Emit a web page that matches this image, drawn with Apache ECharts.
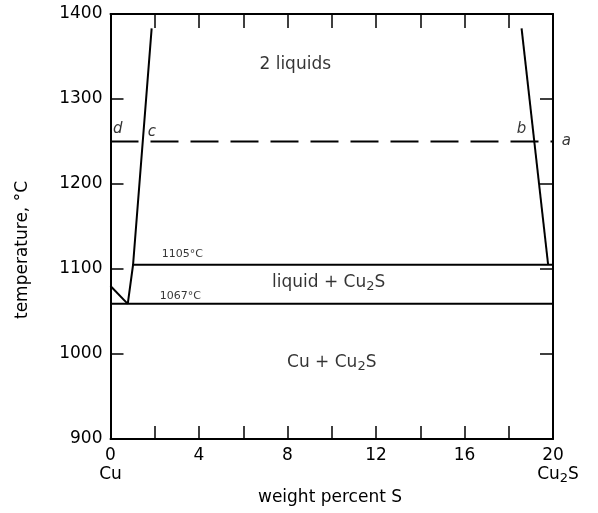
<!DOCTYPE html>
<html><head><meta charset="utf-8">
<script src="https://cdn.jsdelivr.net/npm/echarts@6/dist/echarts.min.js"></script>
<style>html,body{margin:0;padding:0;background:#fff}#c{width:598px;height:513px}</style>
</head><body><div id="c"></div>
<script>
// ---- data (x: weight percent S, y: temperature °C) ----
const xTickValues = [0, 4, 8, 12, 16, 20];
const yTickValues = [900, 1000, 1100, 1200, 1300, 1400];
const cuLiquidus = [[0, 1080], [0.78, 1059]];
const leftMiscibility = [[1.86, 1383], [1.02, 1105], [0.78, 1059]];
const rightMiscibility = [[18.58, 1383], [19.78, 1105]];
const monotectic = [[1.02, 1105], [20, 1105]];
const eutectic = [[0, 1059], [20, 1059]];
const tieLine = [[0, 1250], [20, 1250]];
const regionText = [
  ['2 liquids', 8.35, 1340],
  ['liquid + Cu{s|2}S', 9.86, 1084],
  ['Cu + Cu{s|2}S', 10.0, 990]
];
const isothermText = [
  ['1105°C', 2.32, 1117],
  ['1067°C', 2.23, 1068]
];
const pointLetters = [
  ['d', 0.33, 1264],
  ['c', 1.87, 1261],
  ['b', 18.58, 1265],
  ['a', 20.6, 1250]
];

const FONT = 'DejaVu Sans';
const chart = echarts.init(document.getElementById('c'), null, {renderer: 'canvas'});

function lineSeries(data, dashed) {
  return {
    type: 'line', data: data, symbol: 'none', silent: true, animation: false,
    lineStyle: {color: '#000', width: 2, type: dashed ? [28, 12] : 'solid'}
  };
}
const subStyle = {fontFamily: FONT, fontSize: 13, color: '#000', padding: [9, 0, 0, 0]};
const baseLabel = {color: '#000', textBorderWidth: 0, fontFamily: FONT};

const labelData = []
  .concat(regionText.map(r => ({
    value: [r[1], r[2]],
    label: Object.assign({}, baseLabel, {formatter: r[0], fontSize: 17, align: 'center', rich: {s: subStyle}})
  })))
  .concat(isothermText.map(r => ({
    value: [r[1], r[2]],
    label: Object.assign({}, baseLabel, {formatter: r[0], fontSize: 11, align: 'left'})
  })))
  .concat(pointLetters.map(r => ({
    value: [r[1], r[2]],
    label: Object.assign({}, baseLabel, {formatter: r[0], fontSize: 15, fontStyle: 'italic', align: 'center'})
  })));

const axisLineStyle = {show: true, onZero: false, lineStyle: {color: '#000', width: 2}};
const tickStyle = len => ({show: true, inside: true, length: len, lineStyle: {color: '#000', width: 1.5}});

chart.setOption({
  backgroundColor: '#fff',
  animation: false,
  grid: {left: 110.5, right: 45, top: 14, bottom: 74},
  xAxis: [{
    type: 'value', min: 0, max: 20, interval: 2, position: 'bottom',
    axisLine: axisLineStyle, axisTick: tickStyle(13), splitLine: {show: false},
    axisLabel: {
      interval: 0, showMinLabel: true, showMaxLabel: true, margin: 7,
      fontFamily: FONT, fontSize: 17, color: '#000', lineHeight: 19,
      formatter: function (v) {
        if (xTickValues.indexOf(v) < 0) return '';
        if (v === 0) return '{n|0}\n{n|Cu}';
        if (v === 20) return '{n|20}\n{p|}{n|Cu}{s|2}{n|S}';
        return '{n|' + v + '}';
      },
      rich: {
        n: {fontFamily: FONT, fontSize: 17, color: '#000', lineHeight: 19},
        s: {fontFamily: FONT, fontSize: 13, color: '#000', lineHeight: 19, padding: [9, 0, 0, 0]},
        p: {width: 10}
      }
    }
  }, {
    type: 'value', min: 0, max: 20, interval: 2, position: 'top',
    axisLine: axisLineStyle, axisTick: tickStyle(14), axisLabel: {show: false}, splitLine: {show: false}
  }],
  yAxis: [{
    type: 'value', min: 900, max: 1400, interval: 100, position: 'left',
    axisLine: axisLineStyle, axisTick: tickStyle(13), splitLine: {show: false},
    axisLabel: {
      margin: 8, fontFamily: FONT, fontSize: 17, color: '#000',
      formatter: v => (yTickValues.indexOf(v) >= 0 ? String(v) : '')
    }
  }, {
    type: 'value', min: 900, max: 1400, interval: 100, position: 'right',
    axisLine: axisLineStyle, axisTick: tickStyle(13), axisLabel: {show: false}, splitLine: {show: false}
  }],
  graphic: [
    {type: 'text', x: 330, y: 498, style: {text: 'weight percent S', font: '17px "DejaVu Sans"', fill: '#000', align: 'center', verticalAlign: 'middle'}},
    {type: 'text', x: 23, y: 250, rotation: Math.PI / 2, style: {text: 'temperature, °C', font: '17px "DejaVu Sans"', fill: '#000', align: 'center', verticalAlign: 'middle'}}
  ],
  series: [
    lineSeries(cuLiquidus),
    lineSeries(leftMiscibility),
    lineSeries(rightMiscibility),
    lineSeries(monotectic),
    lineSeries(eutectic),
    lineSeries(tieLine, true),
    {
      type: 'scatter', data: labelData, symbolSize: 0, silent: true, clip: false, animation: false,
      label: {show: true, position: 'inside', verticalAlign: 'middle', fontFamily: FONT, color: '#000'}
    }
  ]
});
</script>
</body></html>
